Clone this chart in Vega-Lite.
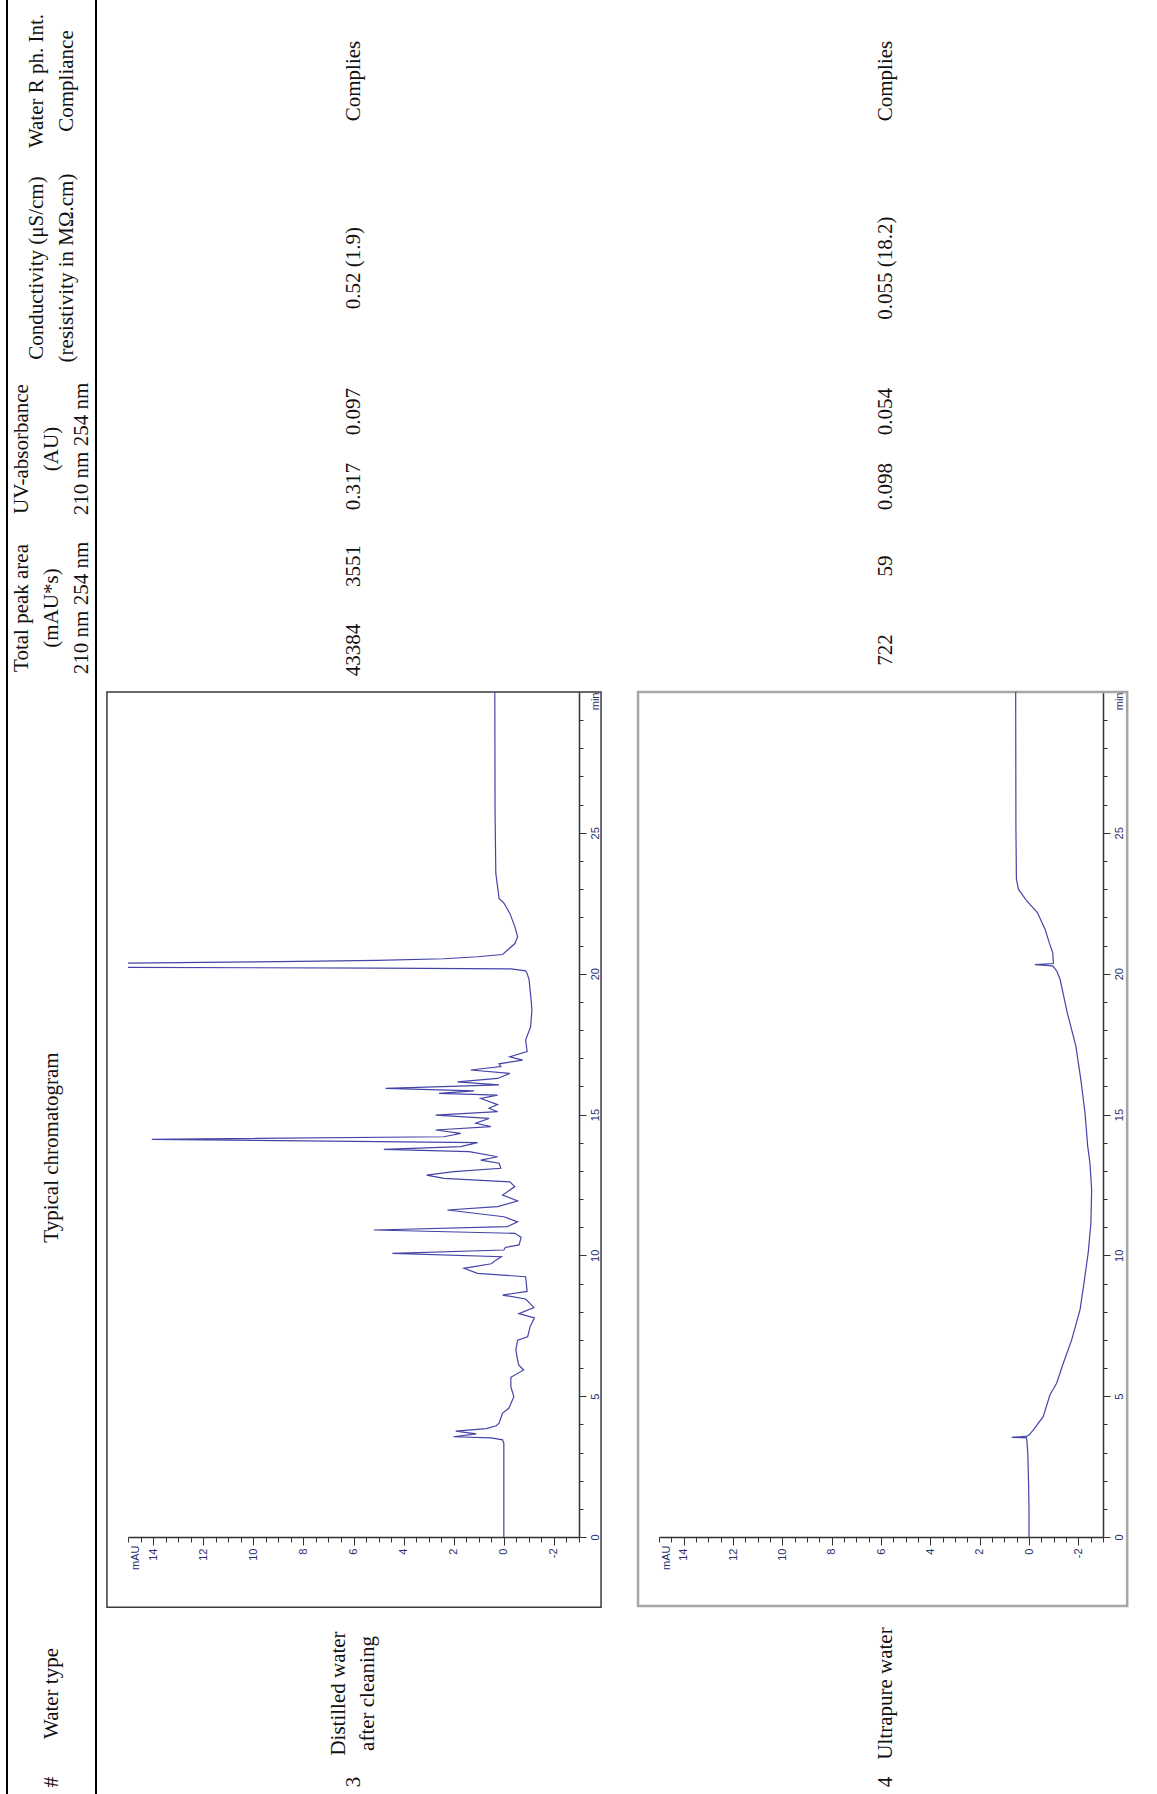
{
"$schema":"https://vega.github.io/schema/vega-lite/v6.json",
"padding":0,
"background":"white",
"columns":9,
"spacing":0,
"bounds":"flush",
"align":"each",
"config":{"view":{"stroke":null},"text":{"font":"Liberation Serif","fontSize":21,"angle":270,"color":"#111111","align":"center","baseline":"middle"}},
"concat":[
{"width":6,"height":162,"data":{"values":[]},"mark":{"type":"text"}},
{"width":2,"height":162,"view":{"fill":"#000000"},"data":{"values":[]},"mark":{"type":"text"}},
{"width":87,"height":162,"data":{"values":[{"line":0,"label":"Water R ph. Int."},{"line":1,"label":"Compliance"}]},"mark":{"type":"text"},"encoding":{"x":{"field":"line","type":"ordinal","scale":{"type":"point","padding":0.95},"axis":null},"text":{"field":"label"}}},
{"width":2,"height":162,"view":{"fill":"#000000"},"data":{"values":[]},"mark":{"type":"text"}},
{"width":31,"height":162,"data":{"values":[]},"mark":{"type":"text"}},
{"width":451,"height":162,"data":{"values":[{"label":"Complies"}]},"mark":{"type":"text"},"encoding":{"text":{"field":"label"}}},
{"width":80,"height":162,"data":{"values":[]},"mark":{"type":"text"}},
{"width":444,"height":162,"data":{"values":[{"label":"Complies"}]},"mark":{"type":"text","dy":5},"encoding":{"text":{"field":"label"}}},
{"width":54,"height":162,"data":{"values":[]},"mark":{"type":"text"}},

{"width":6,"height":212,"data":{"values":[]},"mark":{"type":"text"}},
{"width":2,"height":212,"view":{"fill":"#000000"},"data":{"values":[]},"mark":{"type":"text"}},
{"width":87,"height":212,"data":{"values":[{"line":0,"label":"Conductivity (μS/cm)"},{"line":1,"label":"(resistivity in MΩ.cm)"}]},"mark":{"type":"text"},"encoding":{"x":{"field":"line","type":"ordinal","scale":{"type":"point","padding":0.95},"axis":null},"text":{"field":"label"}}},
{"width":2,"height":212,"view":{"fill":"#000000"},"data":{"values":[]},"mark":{"type":"text"}},
{"width":31,"height":212,"data":{"values":[]},"mark":{"type":"text"}},
{"width":451,"height":212,"data":{"values":[{"label":"0.52 (1.9)"}]},"mark":{"type":"text"},"encoding":{"text":{"field":"label"}}},
{"width":80,"height":212,"data":{"values":[]},"mark":{"type":"text"}},
{"width":444,"height":212,"data":{"values":[{"label":"0.055 (18.2)"}]},"mark":{"type":"text","dy":5},"encoding":{"text":{"field":"label"}}},
{"width":54,"height":212,"data":{"values":[]},"mark":{"type":"text"}},

{"width":6,"height":150,"data":{"values":[]},"mark":{"type":"text"}},
{"width":2,"height":150,"view":{"fill":"#000000"},"data":{"values":[]},"mark":{"type":"text"}},
{"width":87,"height":150,"data":{"values":[{"line":0,"label":"UV-absorbance"},{"line":1,"label":"(AU)"},{"line":2,"label":"210 nm  254 nm"}]},"mark":{"type":"text"},"encoding":{"x":{"field":"line","type":"ordinal","scale":{"type":"point","padding":0.45},"axis":null},"text":{"field":"label"}}},
{"width":2,"height":150,"view":{"fill":"#000000"},"data":{"values":[]},"mark":{"type":"text"}},
{"width":31,"height":150,"data":{"values":[]},"mark":{"type":"text"}},
{"width":451,"height":150,"data":{"values":[{"wl":"254 nm","label":"0.097"},{"wl":"210 nm","label":"0.317"}]},"mark":{"type":"text"},"encoding":{"y":{"field":"wl","type":"nominal","sort":["254 nm","210 nm"],"axis":null},"text":{"field":"label"}}},
{"width":80,"height":150,"data":{"values":[]},"mark":{"type":"text"}},
{"width":444,"height":150,"data":{"values":[{"wl":"254 nm","label":"0.054"},{"wl":"210 nm","label":"0.098"}]},"mark":{"type":"text","dy":5},"encoding":{"y":{"field":"wl","type":"nominal","sort":["254 nm","210 nm"],"axis":null},"text":{"field":"label"}}},
{"width":54,"height":150,"data":{"values":[]},"mark":{"type":"text"}},

{"width":6,"height":168,"data":{"values":[]},"mark":{"type":"text"}},
{"width":2,"height":168,"view":{"fill":"#000000"},"data":{"values":[]},"mark":{"type":"text"}},
{"width":87,"height":168,"data":{"values":[{"line":0,"label":"Total peak area"},{"line":1,"label":"(mAU*s)"},{"line":2,"label":"210 nm  254 nm"}]},"mark":{"type":"text"},"encoding":{"x":{"field":"line","type":"ordinal","scale":{"type":"point","padding":0.45},"axis":null},"text":{"field":"label"}}},
{"width":2,"height":168,"view":{"fill":"#000000"},"data":{"values":[]},"mark":{"type":"text"}},
{"width":31,"height":168,"data":{"values":[]},"mark":{"type":"text"}},
{"width":451,"height":168,"data":{"values":[{"wl":"254 nm","label":"3551"},{"wl":"210 nm","label":"43384"}]},"mark":{"type":"text"},"encoding":{"y":{"field":"wl","type":"nominal","sort":["254 nm","210 nm"],"axis":null},"text":{"field":"label"}}},
{"width":80,"height":168,"data":{"values":[]},"mark":{"type":"text"}},
{"width":444,"height":168,"data":{"values":[{"wl":"254 nm","label":"59"},{"wl":"210 nm","label":"722"}]},"mark":{"type":"text","dy":5},"encoding":{"y":{"field":"wl","type":"nominal","sort":["254 nm","210 nm"],"axis":null},"text":{"field":"label"}}},
{"width":54,"height":168,"data":{"values":[]},"mark":{"type":"text"}},

{"width":6,"height":845,"data":{"values":[]},"mark":{"type":"text"}},
{"width":2,"height":845,"view":{"fill":"#000000"},"data":{"values":[]},"mark":{"type":"text"}},
{"width":87,"height":845,"data":{"values":[{"label":"Typical chromatogram"}]},"mark":{"type":"text","dx":-33},"encoding":{"text":{"field":"label"}}},
{"width":2,"height":845,"view":{"fill":"#000000"},"data":{"values":[]},"mark":{"type":"text"}},
{"width":31,"height":845,"data":{"values":[]},"mark":{"type":"text"}},
{"width":451,"height":845,
 "resolve":{"axis":{"x":"independent","y":"independent"}},
 "layer":[
  {"data":{"values":[{}]},
   "mark":{"type":"rect","filled":false,"stroke":"#3a3a3a","strokeWidth":1.5},
   "encoding":{"x":{"datum":15.84,"type":"quantitative","axis":null},"x2":{"datum":-3.88},"y":{"datum":30,"type":"quantitative","axis":null},"y2":{"datum":-2.49}}},
  {"data":{"values":[
{"t":0,"mAU":0},{"t":1,"mAU":0},{"t":2,"mAU":0},{"t":3,"mAU":0},{"t":3.33,"mAU":0},{"t":3.45,"mAU":0.05},{"t":3.52,"mAU":0.5},{"t":3.56,"mAU":2.01},{"t":3.66,"mAU":1.1},{"t":3.76,"mAU":1.92},{"t":3.85,"mAU":0.7},{"t":3.95,"mAU":0.3},{"t":4.04,"mAU":0.19},{"t":4.4,"mAU":0.05},{"t":4.57,"mAU":-0.2},{"t":4.98,"mAU":-0.4},{"t":5.34,"mAU":-0.28},{"t":5.67,"mAU":-0.28},{"t":5.93,"mAU":-0.79},{"t":6.1,"mAU":-0.6},{"t":6.28,"mAU":-0.55},{"t":6.64,"mAU":-0.48},{"t":6.99,"mAU":-0.55},{"t":7.11,"mAU":-0.95},{"t":7.47,"mAU":-1.05},{"t":7.78,"mAU":-1.22},{"t":7.93,"mAU":-0.6},{"t":8.15,"mAU":-1.2},{"t":8.45,"mAU":-0.87},{"t":8.59,"mAU":0.05},{"t":8.72,"mAU":-0.93},{"t":9.24,"mAU":-0.87},{"t":9.36,"mAU":1.05},{"t":9.54,"mAU":1.59},{"t":9.7,"mAU":0.5},{"t":9.83,"mAU":0.32},{"t":9.95,"mAU":0.1},{"t":10.07,"mAU":4.45},{"t":10.19,"mAU":0},{"t":10.28,"mAU":-0.06},{"t":10.37,"mAU":-0.61},{"t":10.64,"mAU":-0.69},{"t":10.78,"mAU":-0.44},{"t":10.9,"mAU":5.19},{"t":11.02,"mAU":-0.15},{"t":11.19,"mAU":-0.55},{"t":11.37,"mAU":0},{"t":11.61,"mAU":2.25},{"t":11.73,"mAU":0.25},{"t":11.93,"mAU":-0.55},{"t":12.14,"mAU":0.05},{"t":12.44,"mAU":-0.44},{"t":12.61,"mAU":-0.24},{"t":12.73,"mAU":2.39},{"t":12.85,"mAU":3.08},{"t":12.97,"mAU":1.99},{"t":13.09,"mAU":0.12},{"t":13.27,"mAU":0.19},{"t":13.38,"mAU":0.92},{"t":13.5,"mAU":0.25},{"t":13.68,"mAU":1.39},{"t":13.76,"mAU":4.79},{"t":13.86,"mAU":1.72},{"t":14.0,"mAU":1.05},{"t":14.12,"mAU":14.05},{"t":14.21,"mAU":2.39},{"t":14.33,"mAU":1.72},{"t":14.45,"mAU":2.72},{"t":14.57,"mAU":0.52},{"t":14.69,"mAU":1.12},{"t":14.86,"mAU":0.59},{"t":14.98,"mAU":2.72},{"t":15.1,"mAU":0.25},{"t":15.22,"mAU":0.59},{"t":15.35,"mAU":0.25},{"t":15.57,"mAU":0.92},{"t":15.69,"mAU":0.25},{"t":15.75,"mAU":2.59},{"t":15.84,"mAU":1.19},{"t":15.93,"mAU":4.72},{"t":16.05,"mAU":0.19},{"t":16.16,"mAU":1.85},{"t":16.28,"mAU":0.25},{"t":16.46,"mAU":-0.24},{"t":16.58,"mAU":1.32},{"t":16.7,"mAU":0.12},{"t":16.8,"mAU":0.19},{"t":16.93,"mAU":-0.75},{"t":17.05,"mAU":-0.24},{"t":17.23,"mAU":-0.93},{"t":17.64,"mAU":-0.87},{"t":18.12,"mAU":-1.07},{"t":18.71,"mAU":-1.12},{"t":19.06,"mAU":-1.09},{"t":19.77,"mAU":-1.01},{"t":20.01,"mAU":-0.93},{"t":20.1,"mAU":-0.87},{"t":20.17,"mAU":-0.28},{"t":20.2,"mAU":5},{"t":20.22,"mAU":15},{"t":20.25,"mAU":60},{"t":20.33,"mAU":60},{"t":20.37,"mAU":15.5},{"t":20.4,"mAU":12},{"t":20.43,"mAU":9},{"t":20.47,"mAU":5.05},{"t":20.53,"mAU":2.39},{"t":20.6,"mAU":1.05},{"t":20.68,"mAU":0.05},{"t":21.07,"mAU":-0.44},{"t":21.31,"mAU":-0.55},{"t":21.67,"mAU":-0.44},{"t":22.14,"mAU":-0.24},{"t":22.5,"mAU":-0.01},{"t":22.67,"mAU":0.19},{"t":23.08,"mAU":0.25},{"t":23.56,"mAU":0.32},{"t":25.69,"mAU":0.35},{"t":30,"mAU":0.36}
  ]},
   "mark":{"type":"line","clip":true,"color":"#4444a8","strokeWidth":1.2},
   "encoding":{
    "x":{"field":"mAU","type":"quantitative","scale":{"domain":[-3,15],"reverse":true,"nice":false,"zero":false},
     "axis":{"orient":"bottom","title":null,"grid":false,"values":[-3,-2.5,-2,-1.5,-1,-0.5,0,0.5,1,1.5,2,2.5,3,3.5,4,4.5,5,5.5,6,6.5,7,7.5,8,8.5,9,9.5,10,10.5,11,11.5,12,12.5,13,13.5,14,14.5,15,14.7],
      "labelExpr":"datum.value == 14.7 ? 'mAU' : (datum.value % 2 == 0 && datum.value <= 14 ? '' + datum.value : '')",
      "labelAngle":270,"labelAlign":"right","labelBaseline":"middle","labelPadding":3,"labelFont":"Liberation Sans","labelFontSize":11,"labelColor":"#283070","labelOverlap":false,"labelFlush":false,"labelBound":false,
      "tickSize":{"condition":{"test":"datum.value % 2 == 0","value":8},"value":5},
      "tickOpacity":{"condition":{"test":"datum.value == 14.7","value":0},"value":1},
      "tickColor":"#333333","tickWidth":1,"domainColor":"#333333","domainWidth":1.5}},
    "y":{"field":"t","type":"quantitative","scale":{"domain":[0,30],"nice":false,"zero":false},
     "axis":{"orient":"right","title":null,"grid":false,"values":[0,1,2,3,4,5,6,7,8,9,10,11,12,13,14,15,16,17,18,19,20,21,22,23,24,25,26,27,28,29,30],
      "labelExpr":"datum.value == 30 ? 'min' : (datum.value % 5 == 0 ? '' + datum.value : '')",
      "labelAngle":270,"labelAlign":{"condition":{"test":"datum.value == 30","value":"right"},"value":"center"},"labelBaseline":"top","labelPadding":3,"labelFont":"Liberation Sans","labelFontSize":11,"labelColor":"#283070","labelOverlap":false,"labelFlush":false,"labelBound":false,
      "tickSize":{"condition":{"test":"datum.value % 5 == 0","value":7},"value":4},
      "tickOpacity":{"condition":{"test":"datum.value == 30","value":0},"value":1},
      "tickColor":"#333333","tickWidth":1,"domainColor":"#333333","domainWidth":1.5}},
    "order":{"field":"t","type":"quantitative"}}}
 ]},
{"width":80,"height":845,"data":{"values":[]},"mark":{"type":"text"}},
{"width":444,"height":845,
 "resolve":{"axis":{"x":"independent","y":"independent"}},
 "layer":[
  {"data":{"values":[{}]},
   "mark":{"type":"rect","filled":false,"stroke":"#a6a6a6","strokeWidth":2.5},
   "encoding":{"x":{"datum":15.85,"type":"quantitative","axis":null},"x2":{"datum":-3.98},"y":{"datum":30,"type":"quantitative","axis":null},"y2":{"datum":-2.45}}},
  {"data":{"values":[
{"t":0,"mAU":0},{"t":1,"mAU":0},{"t":2,"mAU":0.02},{"t":3,"mAU":0.05},{"t":3.45,"mAU":0.09},{"t":3.52,"mAU":0.1},{"t":3.54,"mAU":0.7},{"t":3.57,"mAU":0.1},{"t":3.62,"mAU":0},{"t":3.8,"mAU":-0.18},{"t":4.28,"mAU":-0.58},{"t":5.05,"mAU":-0.85},{"t":5.46,"mAU":-1.12},{"t":6.17,"mAU":-1.39},{"t":7.0,"mAU":-1.73},{"t":8.07,"mAU":-2.07},{"t":9.02,"mAU":-2.23},{"t":10.09,"mAU":-2.4},{"t":11.15,"mAU":-2.51},{"t":12.34,"mAU":-2.54},{"t":13.28,"mAU":-2.47},{"t":13.87,"mAU":-2.38},{"t":15.06,"mAU":-2.27},{"t":16.25,"mAU":-2.1},{"t":17.43,"mAU":-1.9},{"t":18.62,"mAU":-1.55},{"t":19.8,"mAU":-1.26},{"t":20.1,"mAU":-1.12},{"t":20.28,"mAU":-0.96},{"t":20.32,"mAU":-0.24},{"t":20.36,"mAU":-0.99},{"t":20.75,"mAU":-0.96},{"t":21.1,"mAU":-0.82},{"t":21.58,"mAU":-0.65},{"t":22.17,"mAU":-0.34},{"t":22.58,"mAU":0.09},{"t":23.0,"mAU":0.43},{"t":23.36,"mAU":0.51},{"t":25.13,"mAU":0.53},{"t":30,"mAU":0.54}
  ]},
   "mark":{"type":"line","clip":true,"color":"#4444a8","strokeWidth":1.2},
   "encoding":{
    "x":{"field":"mAU","type":"quantitative","scale":{"domain":[-3,15],"reverse":true,"nice":false,"zero":false},
     "axis":{"orient":"bottom","title":null,"grid":false,"values":[-3,-2.5,-2,-1.5,-1,-0.5,0,0.5,1,1.5,2,2.5,3,3.5,4,4.5,5,5.5,6,6.5,7,7.5,8,8.5,9,9.5,10,10.5,11,11.5,12,12.5,13,13.5,14,14.5,15,14.7],
      "labelExpr":"datum.value == 14.7 ? 'mAU' : (datum.value % 2 == 0 && datum.value <= 14 ? '' + datum.value : '')",
      "labelAngle":270,"labelAlign":"right","labelBaseline":"middle","labelPadding":3,"labelFont":"Liberation Sans","labelFontSize":11,"labelColor":"#283070","labelOverlap":false,"labelFlush":false,"labelBound":false,
      "tickSize":{"condition":{"test":"datum.value % 2 == 0","value":8},"value":5},
      "tickOpacity":{"condition":{"test":"datum.value == 14.7","value":0},"value":1},
      "tickColor":"#333333","tickWidth":1,"domainColor":"#333333","domainWidth":1.5}},
    "y":{"field":"t","type":"quantitative","scale":{"domain":[0,30],"nice":false,"zero":false},
     "axis":{"orient":"right","title":null,"grid":false,"values":[0,1,2,3,4,5,6,7,8,9,10,11,12,13,14,15,16,17,18,19,20,21,22,23,24,25,26,27,28,29,30],
      "labelExpr":"datum.value == 30 ? 'min' : (datum.value % 5 == 0 ? '' + datum.value : '')",
      "labelAngle":270,"labelAlign":{"condition":{"test":"datum.value == 30","value":"right"},"value":"center"},"labelBaseline":"top","labelPadding":3,"labelFont":"Liberation Sans","labelFontSize":11,"labelColor":"#283070","labelOverlap":false,"labelFlush":false,"labelBound":false,
      "tickSize":{"condition":{"test":"datum.value % 5 == 0","value":7},"value":4},
      "tickOpacity":{"condition":{"test":"datum.value == 30","value":0},"value":1},
      "tickColor":"#333333","tickWidth":1,"domainColor":"#333333","domainWidth":1.5}},
    "order":{"field":"t","type":"quantitative"}}}
 ]},
{"width":54,"height":845,"data":{"values":[]},"mark":{"type":"text"}},

{"width":6,"height":80,"data":{"values":[]},"mark":{"type":"text"}},
{"width":2,"height":80,"view":{"fill":"#000000"},"data":{"values":[]},"mark":{"type":"text"}},
{"width":87,"height":80,"data":{"values":[]},"mark":{"type":"text"}},
{"width":2,"height":80,"view":{"fill":"#000000"},"data":{"values":[]},"mark":{"type":"text"}},
{"width":31,"height":80,"data":{"values":[]},"mark":{"type":"text"}},
{"width":451,"height":80,"data":{"values":[]},"mark":{"type":"text"}},
{"width":80,"height":80,"data":{"values":[]},"mark":{"type":"text"}},
{"width":444,"height":80,"data":{"values":[]},"mark":{"type":"text"}},
{"width":54,"height":80,"data":{"values":[]},"mark":{"type":"text"}},

{"width":6,"height":153,"data":{"values":[]},"mark":{"type":"text"}},
{"width":2,"height":153,"view":{"fill":"#000000"},"data":{"values":[]},"mark":{"type":"text"}},
{"width":87,"height":153,"data":{"values":[{"label":"Water type"}]},"mark":{"type":"text"},"encoding":{"text":{"field":"label"}}},
{"width":2,"height":153,"view":{"fill":"#000000"},"data":{"values":[]},"mark":{"type":"text"}},
{"width":31,"height":153,"data":{"values":[]},"mark":{"type":"text"}},
{"width":451,"height":153,"data":{"values":[{"label":"Distilled water\nafter cleaning"}]},"mark":{"type":"text","lineBreak":"\n","lineHeight":29,"dy":-14.5},"encoding":{"text":{"field":"label"}}},
{"width":80,"height":153,"data":{"values":[]},"mark":{"type":"text"}},
{"width":444,"height":153,"data":{"values":[{"label":"Ultrapure water"}]},"mark":{"type":"text","dy":5},"encoding":{"text":{"field":"label"}}},
{"width":54,"height":153,"data":{"values":[]},"mark":{"type":"text"}},

{"width":6,"height":24,"data":{"values":[]},"mark":{"type":"text"}},
{"width":2,"height":24,"view":{"fill":"#000000"},"data":{"values":[]},"mark":{"type":"text"}},
{"width":87,"height":24,"data":{"values":[{"label":"#"}]},"mark":{"type":"text"},"encoding":{"text":{"field":"label"}}},
{"width":2,"height":24,"view":{"fill":"#000000"},"data":{"values":[]},"mark":{"type":"text"}},
{"width":31,"height":24,"data":{"values":[]},"mark":{"type":"text"}},
{"width":451,"height":24,"data":{"values":[{"label":"3"}]},"mark":{"type":"text"},"encoding":{"text":{"field":"label"}}},
{"width":80,"height":24,"data":{"values":[]},"mark":{"type":"text"}},
{"width":444,"height":24,"data":{"values":[{"label":"4"}]},"mark":{"type":"text","dy":5},"encoding":{"text":{"field":"label"}}},
{"width":54,"height":24,"data":{"values":[]},"mark":{"type":"text"}}
]
}
